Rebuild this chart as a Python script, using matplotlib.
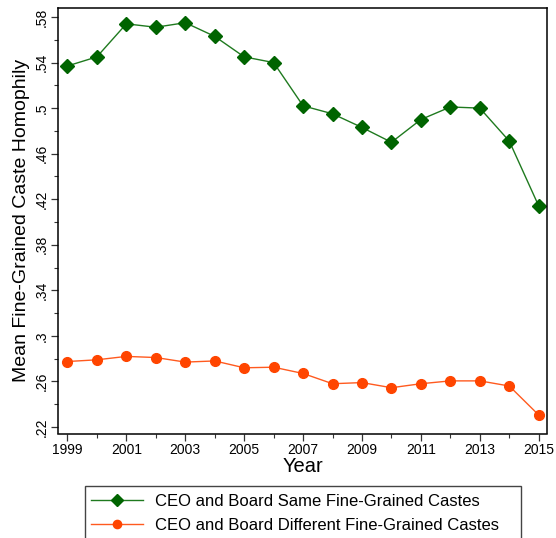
import matplotlib
matplotlib.use("Agg")
import matplotlib.pyplot as plt
from matplotlib.patches import Rectangle
from matplotlib.ticker import FixedLocator, MultipleLocator

plt.rcParams['font.family'] = ['Liberation Sans', 'DejaVu Sans']

years = list(range(1999, 2016))
same_caste = [0.537, 0.545, 0.574, 0.571, 0.575, 0.563, 0.545, 0.540,
              0.502, 0.495, 0.483, 0.470, 0.490, 0.501, 0.500, 0.471, 0.414]
diff_caste = [0.2775, 0.279, 0.282, 0.281, 0.277, 0.278, 0.272, 0.2725,
              0.267, 0.258, 0.259, 0.2545, 0.258, 0.2605, 0.2605, 0.256, 0.2305]
y_ticks = [0.22, 0.26, 0.30, 0.34, 0.38, 0.42, 0.46, 0.50, 0.54, 0.58]
x_ticks = list(range(1999, 2016, 2))

label_same = "CEO and Board Same Fine-Grained Castes"
label_diff = "CEO and Board Different Fine-Grained Castes"

W, H = 556, 538
fig = plt.figure(figsize=(W / 100, H / 100), dpi=100)
ax = fig.add_axes([58 / W, 1 - 433.5 / H, (547 - 58) / W, (433.5 - 8) / H])

ax.plot(years, same_caste, color="#1f7a1f", lw=1.0, marker="D", ms=7,
        mfc="#006400", mec="#006400", label=label_same)
ax.plot(years, diff_caste, color="#ff5a1f", lw=1.0, marker="o", ms=7,
        mfc="#ff4500", mec="#ff4500", label=label_diff)

ax.set_xlim(1998.68, 2015.28)
ax.set_ylim(0.2143, 0.5879)

def stata_fmt(v):
    s = f"{v:g}"
    return s[1:] if s.startswith("0") else s

ax.yaxis.set_major_locator(FixedLocator(y_ticks))
ax.set_yticklabels([stata_fmt(v) for v in y_ticks], rotation=90, va="center")
ax.yaxis.set_minor_locator(MultipleLocator(0.02))
ax.xaxis.set_major_locator(FixedLocator(x_ticks))
ax.set_xticklabels([str(y) for y in x_ticks])
ax.xaxis.set_minor_locator(MultipleLocator(1))

ax.tick_params(which="major", length=5, width=0.9, labelsize=10, pad=2, color="#333333")
ax.tick_params(which="minor", length=3, width=0.8, color="#333333")
for sp in ax.spines.values():
    sp.set_linewidth(1.1)
    sp.set_color("black")

ax.set_xlabel("Year", fontsize=14.5, labelpad=0)
ax.set_ylabel("Mean Fine-Grained Caste Homophily", fontsize=14, labelpad=3)

# legend box runs off the bottom edge of the figure
box_left, box_top, box_right = 85, 485.7, 520.7
fig.patches.append(Rectangle((box_left / W, -0.05), (box_right - box_left) / W,
                             1 - box_top / H + 0.05, transform=fig.transFigure,
                             fill=True, facecolor="white", edgecolor="#444444",
                             linewidth=1.0, zorder=1))
leg = fig.legend(loc="upper left",
                 bbox_to_anchor=(91 / W, 1 - 494 / H),
                 fontsize=12, handlelength=3.1, handletextpad=0.75,
                 borderpad=0.0, labelspacing=0.55, frameon=False,
                 borderaxespad=0, markerscale=0.85)
leg.set_zorder(2)

fig.savefig("out.png", dpi=100)
